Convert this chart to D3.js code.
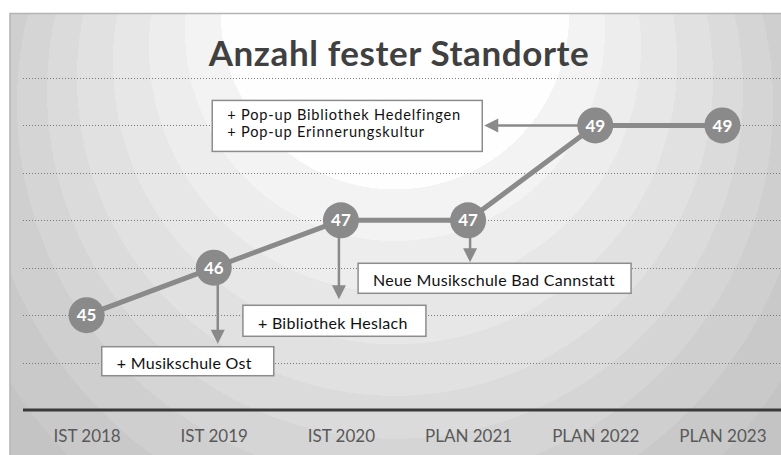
<!DOCTYPE html>
<html>
<head>
<meta charset="utf-8">
<script src="https://cdn.jsdelivr.net/npm/d3@7"></script>
<style>
  body { margin: 0; background: #fff; }
  svg { display: block; }
  text { font-family: Lato, "Open Sans", sans-serif; }
</style>
</head>
<body>
<div id="chart"></div>
<script>
// data
const categories = ['IST 2018', 'IST 2019', 'IST 2020', 'PLAN 2021', 'PLAN 2022', 'PLAN 2023'];
const values = [45, 46, 47, 47, 49, 49];
const gridValues = [44, 45, 46, 47, 48, 49, 50];
const title = 'Anzahl fester Standorte';
const noteCategory = ['IST 2019', 'IST 2020', 'PLAN 2021', 'PLAN 2022'];
const noteLines = [
    ['+ Musikschule Ost'],
    ['+ Bibliothek Heslach'],
    ['Neue Musikschule Bad Cannstatt'],
    ['+ Pop-up Bibliothek Hedelfingen', '+ Pop-up Erinnerungskultur']
];

const W = 781, H = 455;

// box placement relative to the point the note belongs to
const noteLayout = [
    {dx: -112, dy: 79, w: 172, h: 29, dir: 'down', ax: 4, tip: 76},
    {dx: -98, dy: 85, w: 183, h: 31, dir: 'down', ax: -2, tip: 79},
    {dx: -110, dy: 43, w: 273, h: 30, dir: 'down', ax: 2, tip: 42},
    {dx: -383, dy: -25, w: 270, h: 51, dir: 'left', ax: 0, tip: -111}
];

const svg = d3.select('#chart').append('svg')
    .attr('width', W)
    .attr('height', H);

// stepped radial background, focus near the top
const bands = [
    [0.29, '#fefefe'], [0.35, '#f3f3f3'], [0.41, '#ededed'], [0.47, '#e7e7e7'],
    [0.53, '#e1e1e1'], [0.58, '#dbdbdb'], [0.63, '#d5d5d5'], [0.69, '#cfcfcf'],
    [0.76, '#c9c9c9'], [1, '#c4c4c4']
];
const grad = svg.append('defs').append('radialGradient')
    .attr('id', 'bg')
    .attr('gradientUnits', 'userSpaceOnUse')
    .attr('cx', 395).attr('cy', 200).attr('r', 600)
    .attr('fx', 395).attr('fy', -60);
let prev = 0;
bands.forEach(b => {
    grad.append('stop').attr('offset', prev).attr('stop-color', b[1]);
    grad.append('stop').attr('offset', b[0]).attr('stop-color', b[1]);
    prev = b[0];
});

svg.append('rect')
    .attr('x', 10).attr('y', 13.5)
    .attr('width', W).attr('height', H)
    .attr('fill', 'url(#bg)')
    .attr('stroke', '#b4b4b4')
    .attr('stroke-width', 1.5);

const x = d3.scalePoint()
    .domain(categories)
    .range([23, 786])
    .padding(0.5);

const y = d3.scaleLinear()
    .domain([43, 50])
    .range([410, 78]);

// dotted grid
svg.append('g').selectAll('line')
    .data(gridValues)
    .enter().append('line')
    .attr('x1', 23).attr('x2', W)
    .attr('y1', d => Math.round(y(d)) + 0.5)
    .attr('y2', d => Math.round(y(d)) + 0.5)
    .attr('stroke', '#7a7a7a')
    .attr('stroke-width', 1)
    .attr('stroke-dasharray', '1,2');

// x axis
const xAxis = svg.append('g')
    .attr('transform', 'translate(0,' + y(43) + ')')
    .call(d3.axisBottom(x).tickSize(0).tickPadding(20));
xAxis.select('.domain')
    .attr('d', 'M23,0H' + W)
    .attr('stroke', '#3a3a3a')
    .attr('stroke-width', 3);
xAxis.selectAll('text')
    .attr('font-family', 'Lato, sans-serif')
    .attr('font-size', 17)
    .attr('fill', '#595959');

// title
svg.append('text')
    .attr('x', 399).attr('y', 66)
    .attr('text-anchor', 'middle')
    .attr('font-size', 35)
    .attr('font-weight', 'bold')
    .attr('letter-spacing', 0.6)
    .attr('fill', '#404040')
    .text(title);

const grey = '#8a8a8a';

// notes: arrows and boxes
const notes = noteCategory.map((c, i) => {
    const idx = categories.indexOf(c);
    return {px: x(c), py: y(values[idx]), lines: noteLines[i], lay: noteLayout[i]};
});

const ng = svg.append('g');
notes.forEach(n => {
    const L = n.lay;
    if (L.dir === 'down') {
        const ax = n.px + L.ax, tipY = n.py + L.tip;
        ng.append('line')
            .attr('x1', ax).attr('x2', ax)
            .attr('y1', n.py).attr('y2', tipY - 12)
            .attr('stroke', grey).attr('stroke-width', 2.5);
        ng.append('path')
            .attr('d', `M${ax - 7},${tipY - 14}L${ax + 7},${tipY - 14}L${ax},${tipY}Z`)
            .attr('fill', grey);
    } else {
        const tipX = n.px + L.tip;
        ng.append('line')
            .attr('x1', n.px).attr('x2', tipX + 12)
            .attr('y1', n.py).attr('y2', n.py)
            .attr('stroke', grey).attr('stroke-width', 2.5);
        ng.append('path')
            .attr('d', `M${tipX + 14},${n.py - 7}L${tipX + 14},${n.py + 7}L${tipX},${n.py}Z`)
            .attr('fill', grey);
    }
});

// line and points
svg.append('path')
    .datum(values)
    .attr('fill', 'none')
    .attr('stroke', grey)
    .attr('stroke-width', 5)
    .attr('d', d3.line().x((d, i) => x(categories[i])).y(d => y(d)));

notes.forEach(n => {
    const L = n.lay;
    const bx = n.px + L.dx, by = n.py + L.dy;
    const multi = n.lines.length > 1;
    ng.append('rect')
        .attr('x', bx).attr('y', by)
        .attr('width', L.w).attr('height', L.h)
        .attr('fill', '#fff')
        .attr('stroke', '#8c8c8c')
        .attr('stroke-width', 1.5);
    n.lines.forEach((t, k) => {
        ng.append('text')
            .attr('x', bx + 15)
            .attr('y', by + (multi ? 20 + k * 17 : L.h - 7))
            .attr('font-size', multi ? 14.6 : 16)
            .attr('letter-spacing', multi ? 0.8 : 0.3)
            .attr('fill', '#111')
            .text(t);
    });
});

const pts = svg.append('g').selectAll('g')
    .data(values)
    .enter().append('g')
    .attr('transform', (d, i) => 'translate(' + x(categories[i]) + ',' + y(d) + ')');
pts.append('circle')
    .attr('r', 18)
    .attr('fill', grey);
pts.append('text')
    .attr('text-anchor', 'middle')
    .attr('dy', '0.36em')
    .attr('font-size', 17)
    .attr('font-weight', 'bold')
    .attr('fill', '#fff')
    .text(d => d);
</script>
</body>
</html>
